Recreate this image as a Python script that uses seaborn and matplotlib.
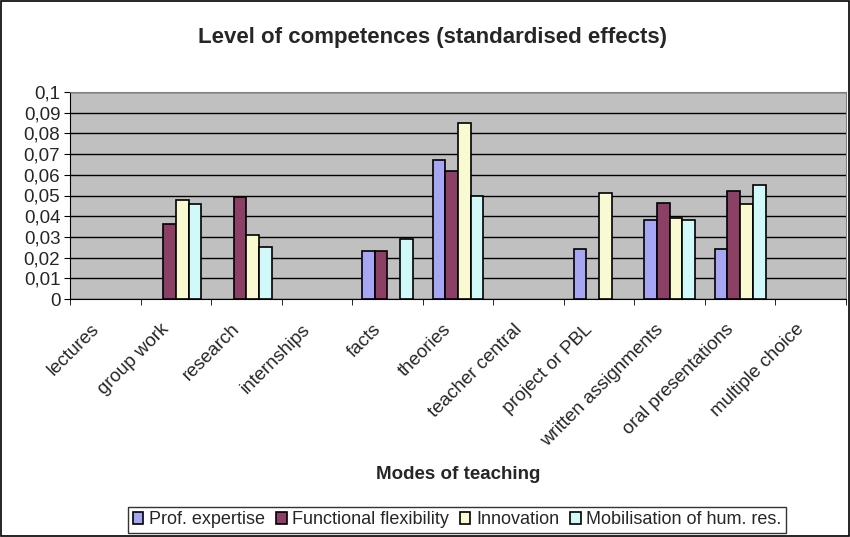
import numpy as np
import matplotlib
matplotlib.use('Agg')
import matplotlib.pyplot as plt
import matplotlib.transforms as mtransforms
import pandas as pd
import seaborn as sns

# Daten
categories = ['lectures', 'group work', 'research', 'internships', 'facts', 'theories',
              'teacher central', 'project or PBL', 'written assignments', 'oral presentations',
              'multiple choice']
series = ['Prof. expertise', 'Functional flexibility', 'Innovation', 'Mobilisation of hum. res.']
prof_expertise = [np.nan, np.nan, np.nan, np.nan, 0.023, 0.067, np.nan, 0.024, 0.038, 0.024, np.nan]
functional_flex = [np.nan, 0.036, 0.0495, np.nan, 0.023, 0.062, np.nan, np.nan, 0.0465, 0.052, np.nan]
innovation = [np.nan, 0.048, 0.031, np.nan, np.nan, 0.085, np.nan, 0.051, 0.039, 0.046, np.nan]
mobilisation = [np.nan, 0.046, 0.025, np.nan, 0.029, 0.050, np.nan, np.nan, 0.038, 0.055, np.nan]
yticks = [0, 0.01, 0.02, 0.03, 0.04, 0.05, 0.06, 0.07, 0.08, 0.09, 0.1]
ytick_labels = ['0', '0,01', '0,02', '0,03', '0,04', '0,05', '0,06', '0,07', '0,08', '0,09', '0,1']

colors = ['#9999FF', '#993366', '#FFFFCC', '#CCFFFF']

df = pd.DataFrame({'Modes': categories * 4,
                   'Serie': np.repeat(series, len(categories)),
                   'Wert': prof_expertise + functional_flex + innovation + mobilisation})

sns.set_style('white')
plt.rcParams['font.family'] = ['Liberation Sans', 'DejaVu Sans']

fig = plt.figure(figsize=(8.5, 5.37), dpi=100)
ax = fig.add_axes([70 / 850, 1 - 299 / 537, 776 / 850, 207 / 537])

sns.barplot(data=df, x='Modes', y='Wert', hue='Serie', order=categories, hue_order=series,
            palette=colors, width=0.72, edgecolor='black', linewidth=1.2, ax=ax,
            legend=True, zorder=3)

ax.set_facecolor('#C0C0C0')
ax.set_ylim(0, 0.1)
ax.set_xlim(-0.5, len(categories) - 0.5)
ax.set_yticks(yticks)
ax.set_yticklabels(ytick_labels, fontsize=13.5)
ax.yaxis.grid(True, color='black', linewidth=1)
ax.set_axisbelow(True)
for s in ax.spines.values():
    s.set_color('#808080')
ax.spines['left'].set_color('black')
ax.spines['bottom'].set_color('black')
ax.tick_params(axis='y', length=4, color='black', left=True, pad=3)
ax.set_xticks(np.arange(len(categories) + 1) - 0.5, minor=True)
ax.tick_params(axis='x', which='minor', length=4, color='black', bottom=True)
ax.tick_params(axis='x', which='major', length=0, pad=20)
ax.set_xticks(range(len(categories)))
ax.set_xticklabels(categories, rotation=45, ha='right', va='center', rotation_mode='anchor',
                   fontsize=13.5)
shift = mtransforms.ScaledTranslation(-9 / 100, 0, fig.dpi_scale_trans)
for lbl in ax.get_xticklabels():
    lbl.set_transform(lbl.get_transform() + shift)
ax.set_ylabel('')
ax.set_xlabel('Modes of teaching', fontsize=13.5, fontweight='bold')
ax.xaxis.set_label_coords(0.5, -(466 - 299) / 207)

fig.suptitle('Level of competences (standardised effects)', fontsize=16, fontweight='bold',
             x=433 / 850, y=1 - 38 / 537, va='center')

ax.legend(loc='center', bbox_to_anchor=(457 / 850, 1 - 520 / 537), bbox_transform=fig.transFigure,
          ncol=4, frameon=True, fancybox=False, edgecolor='black', fontsize=13,
          handlelength=0.6, handleheight=0.6, handletextpad=0.3, columnspacing=0.6,
          borderpad=0.25, borderaxespad=0)

fig.patches.append(plt.Rectangle((0.001, 0.001), 0.998, 0.998, transform=fig.transFigure,
                                 fill=False, edgecolor='black', linewidth=1.2))

plt.savefig('out.png', dpi=100)
